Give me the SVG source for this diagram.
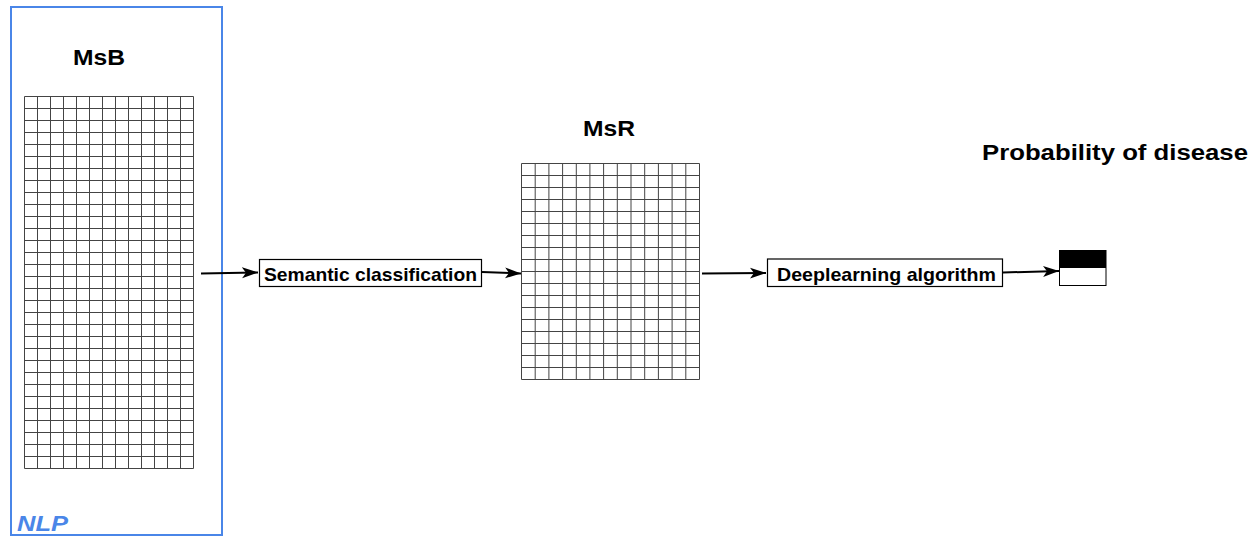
<svg xmlns="http://www.w3.org/2000/svg" width="1260" height="538" viewBox="0 0 1260 538">
<style>
.lbl{font-family:"Liberation Sans",Arial,sans-serif;font-weight:bold;fill:#000}
.grid{fill:none;stroke:#444;stroke-width:1}
.box{fill:#fff;stroke:#000;stroke-width:1.2}
.conn{fill:none;stroke:#000;stroke-width:2}
</style>
<defs>
<marker id="arr" markerUnits="userSpaceOnUse" markerWidth="18" markerHeight="12" refX="16" refY="6" orient="auto" viewBox="0 0 18 12">
<path d="M0,0.5 L16,6 L0,11.5 L4,6 Z" fill="#000"/>
</marker>
</defs>
<rect width="1260" height="538" fill="#fff"/>

<g id="nlp">
<rect x="11" y="7" width="211" height="528" fill="none" stroke="#4a86e8" stroke-width="2"/>
<text x="17" y="531" font-family="Liberation Sans,Arial,sans-serif" font-weight="bold" font-style="italic" font-size="22" fill="#4a86e8" textLength="51" lengthAdjust="spacingAndGlyphs">NLP</text>
</g>

<g id="msb">
<text class="lbl" x="73" y="64.5" font-size="21.5" textLength="52" lengthAdjust="spacingAndGlyphs">MsB</text>
<path class="grid" d="M24.5,96.5V468.5M37.5,96.5V468.5M50.5,96.5V468.5M63.5,96.5V468.5M76.5,96.5V468.5M89.5,96.5V468.5M102.5,96.5V468.5M115.5,96.5V468.5M128.5,96.5V468.5M141.5,96.5V468.5M154.5,96.5V468.5M167.5,96.5V468.5M180.5,96.5V468.5M193.5,96.5V468.5
M24.5,96.5H193.5M24.5,108.5H193.5M24.5,120.5H193.5M24.5,132.5H193.5M24.5,144.5H193.5M24.5,156.5H193.5M24.5,168.5H193.5M24.5,180.5H193.5M24.5,192.5H193.5M24.5,204.5H193.5M24.5,216.5H193.5M24.5,228.5H193.5M24.5,240.5H193.5M24.5,252.5H193.5M24.5,264.5H193.5M24.5,276.5H193.5M24.5,288.5H193.5M24.5,300.5H193.5M24.5,312.5H193.5M24.5,324.5H193.5M24.5,336.5H193.5M24.5,348.5H193.5M24.5,360.5H193.5M24.5,372.5H193.5M24.5,384.5H193.5M24.5,396.5H193.5M24.5,408.5H193.5M24.5,420.5H193.5M24.5,432.5H193.5M24.5,444.5H193.5M24.5,456.5H193.5M24.5,468.5H193.5"/>
</g>

<g id="semantic">
<rect class="box" x="259.5" y="259.5" width="222" height="27"/>
<text class="lbl" x="264" y="280.5" font-size="18.5" textLength="213" lengthAdjust="spacingAndGlyphs">Semantic classification</text>
</g>

<g id="msr">
<text class="lbl" x="583" y="135.5" font-size="22" textLength="52" lengthAdjust="spacingAndGlyphs">MsR</text>
<path class="grid" d="M521.5,163.5V379.5M535.2,163.5V379.5M548.9,163.5V379.5M562.6,163.5V379.5M576.3,163.5V379.5M589.9,163.5V379.5M603.6,163.5V379.5M617.3,163.5V379.5M631,163.5V379.5M644.7,163.5V379.5M658.4,163.5V379.5M672.1,163.5V379.5M685.8,163.5V379.5M699.5,163.5V379.5
M521.5,163.5H699.5M521.5,175.5H699.5M521.5,187.5H699.5M521.5,199.5H699.5M521.5,211.5H699.5M521.5,223.5H699.5M521.5,235.5H699.5M521.5,247.5H699.5M521.5,259.5H699.5M521.5,271.5H699.5M521.5,283.5H699.5M521.5,295.5H699.5M521.5,307.5H699.5M521.5,319.5H699.5M521.5,331.5H699.5M521.5,343.5H699.5M521.5,355.5H699.5M521.5,367.5H699.5M521.5,379.5H699.5"/>
</g>

<g id="deeplearning">
<rect class="box" x="767.5" y="259" width="235" height="27.5"/>
<text class="lbl" x="777" y="280.5" font-size="18.5" textLength="219" lengthAdjust="spacingAndGlyphs">Deeplearning algorithm</text>
</g>

<g id="probability">
<text class="lbl" x="982" y="160" font-size="22" textLength="266" lengthAdjust="spacingAndGlyphs">Probability of disease</text>
<rect x="1059.5" y="250.5" width="46.5" height="35" fill="#fff" stroke="#000" stroke-width="1"/>
<rect x="1059.5" y="250.5" width="46.5" height="17.5" fill="#000"/>
</g>

<g id="connectors">
<path class="conn" d="M201,273.5 L258,272.5" marker-end="url(#arr)"/>
<path class="conn" d="M482,272 L521,273.5" marker-end="url(#arr)"/>
<path class="conn" d="M702,273.5 L766,273" marker-end="url(#arr)"/>
<path class="conn" d="M1003,272.5 L1059,271" marker-end="url(#arr)"/>
</g>
</svg>
